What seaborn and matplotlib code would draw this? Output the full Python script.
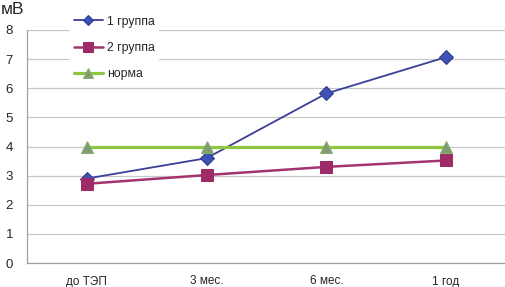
import pandas as pd
import matplotlib
matplotlib.use("Agg")
import matplotlib.pyplot as plt
import seaborn as sns

# data
periods = ["до ТЭП", "3 мес.", "6 мес.", "1 год"]
group1 = [2.9, 3.6, 5.82, 7.07]
group2 = [2.72, 3.02, 3.3, 3.52]
norm = [4.0, 4.0, 4.0, 4.0]
series_names = ["1 группа", "2 группа", "норма"]

sns.set_style("white")
plt.rcParams['font.family'] = ['Liberation Sans', 'DejaVu Sans']

rows = []
for name, vals in zip(series_names, [group1, group2, norm]):
    for p, v in zip(periods, vals):
        rows.append({"period": p, "value": v, "series": name})
df = pd.DataFrame(rows)

styles = {
    "1 группа": dict(color="#3A3F98", marker="D", ms=7, mfc="#3F51B5", mec="#2E3A8C", lw=1.3),
    "2 группа": dict(color="#A3336F", marker="s", ms=8.5, mfc="#9E2A68", mec="#9E2A68", lw=1.8),
    "норма": dict(color="#8DC63F", marker="^", ms=9, mfc="#7E9E72", mec="#8AAE6E", lw=2.3),
}

fig = plt.figure(figsize=(5.05, 2.87), dpi=100)
ax = fig.add_axes([27 / 505, 1 - 263 / 287, 479 / 505, 233 / 287])

for name in series_names:
    st = styles[name]
    sub = df[df["series"] == name]
    sns.lineplot(data=sub, x="period", y="value", ax=ax, label=name,
                 color=st["color"], marker=st["marker"], markersize=st["ms"],
                 markerfacecolor=st["mfc"], markeredgecolor=st["mec"],
                 linewidth=st["lw"], sort=False, zorder=3)

ax.set_xlim(-0.5, 3.5)
ax.set_ylim(0, 8)
ax.set_yticks(range(0, 9))
ax.yaxis.grid(True, color="#C8C8C8", linewidth=0.9)
ax.set_xlabel("")
ax.set_ylabel("")
ax.set_xticks(range(4))
ax.set_xticklabels(periods)
ax.set_xticks([-0.5, 0.5, 1.5, 2.5, 3.5], minor=True)
ax.tick_params(axis="x", which="major", length=0, pad=9, labelsize=8.5)
ax.tick_params(axis="x", which="minor", length=4, color="#A0A0A0", direction="out")
ax.tick_params(axis="y", length=4, color="#A0A0A0", direction="out", labelsize=9.5, pad=6)
for s in ["top", "right"]:
    ax.spines[s].set_visible(False)
for s in ["left", "bottom"]:
    ax.spines[s].set_color("#A0A0A0")
    ax.spines[s].set_linewidth(0.9)

leg = ax.legend(loc="upper left", bbox_to_anchor=(64 / 505, 1 - 6 / 287),
                bbox_transform=fig.transFigure, frameon=True, fontsize=8.8,
                handlelength=2.4, labelspacing=1.15, borderpad=0.3, handletextpad=0.3,
                markerscale=0.8)
leg.get_frame().set_facecolor("white")
leg.get_frame().set_edgecolor("white")
leg.get_frame().set_alpha(1)

fig.text(1 / 505, 1 - 10 / 287, "мВ", fontsize=12.5, va="center", ha="left")

fig.savefig("out.png", dpi=100)
